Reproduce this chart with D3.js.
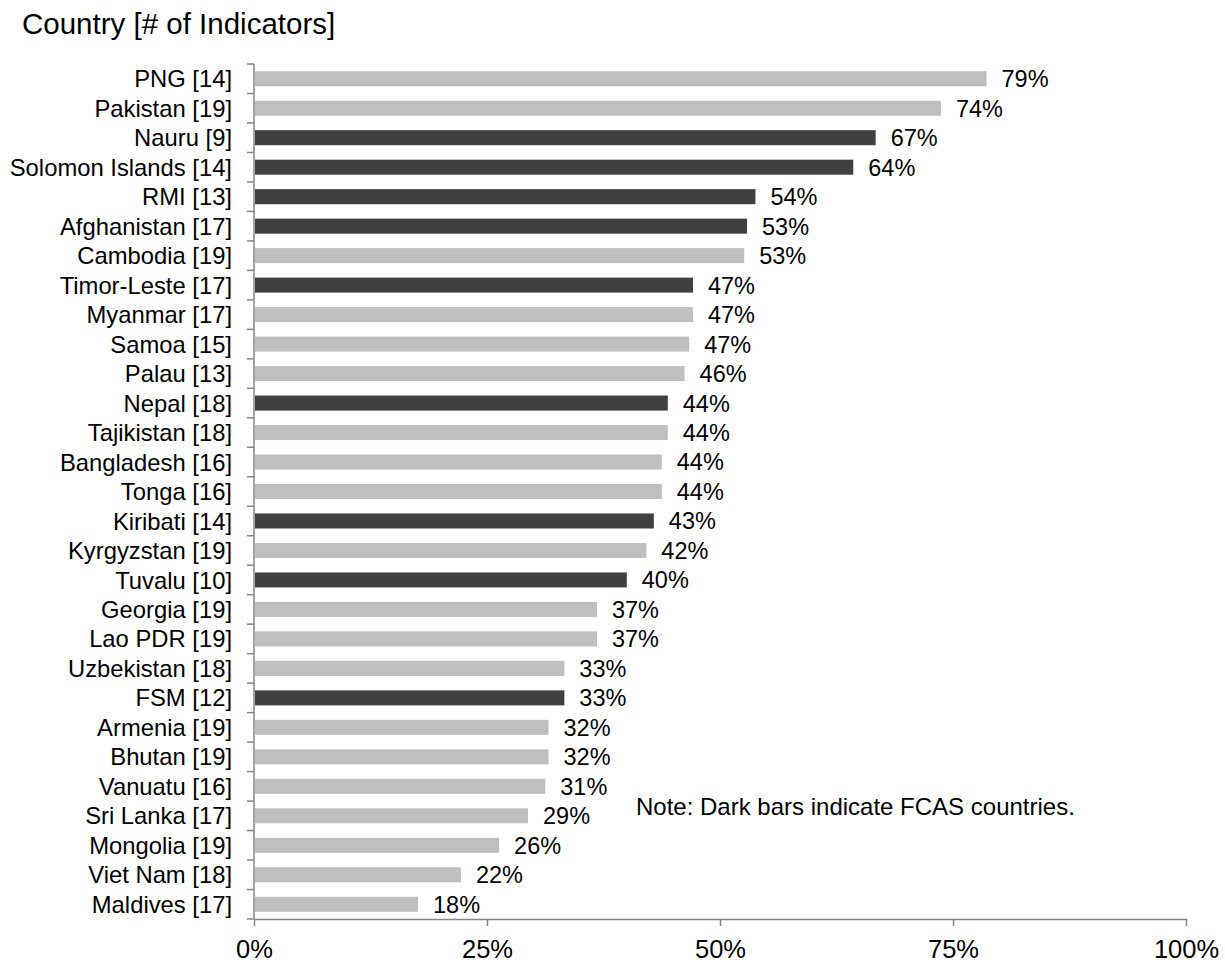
<!DOCTYPE html>
<html>
<head>
<meta charset="utf-8">
<script src="https://cdn.jsdelivr.net/npm/d3@7"></script>
<style>
  html, body { margin: 0; padding: 0; background: #fff; }
  svg { display: block; font-family: Arial, "Liberation Sans", sans-serif; }
</style>
</head>
<body>
<svg id="chart" width="1225" height="962"></svg>
<script>
// Countries with the number of indicators assessed
const countries = ["PNG", "Pakistan", "Nauru", "Solomon Islands", "RMI", "Afghanistan", "Cambodia",
  "Timor-Leste", "Myanmar", "Samoa", "Palau", "Nepal", "Tajikistan", "Bangladesh", "Tonga",
  "Kiribati", "Kyrgyzstan", "Tuvalu", "Georgia", "Lao PDR", "Uzbekistan", "FSM", "Armenia",
  "Bhutan", "Vanuatu", "Sri Lanka", "Mongolia", "Viet Nam", "Maldives"];
const indicatorCounts = [14, 19, 9, 14, 13, 17, 19, 17, 17, 15, 13, 18, 18, 16, 16, 14, 19, 10,
  19, 19, 18, 12, 19, 19, 16, 17, 19, 18, 17];
// Share of indicators (fraction)
const shares = [0.786, 0.737, 0.667, 0.643, 0.538, 0.529, 0.526, 0.471, 0.471, 0.467, 0.462,
  0.444, 0.444, 0.4375, 0.4375, 0.429, 0.421, 0.400, 0.368, 0.368, 0.333, 0.333, 0.316, 0.316,
  0.3125, 0.294, 0.263, 0.222, 0.176];
// Fragile and conflict-affected situations
const fcas = [false, false, true, true, true, true, false, true, false, false, false, true, false,
  false, false, true, false, true, false, false, false, true, false, false, false, false, false,
  false, false];
const xTicks = [0, 0.25, 0.5, 0.75, 1];

(function () {
  const labels = countries.map((c, i) => `${c} [${indicatorCounts[i]}]`);
  const data = labels.map((l, i) => ({ label: l, value: shares[i], fcas: fcas[i] }));

  const svg = d3.select("#chart");
  const mLeft = 254, mRight = 1186, mTop = 64, mBottom = 919;

  const x = d3.scaleLinear().domain([0, 1]).range([mLeft, mRight]);
  const y = d3.scaleBand().domain(labels).range([mTop, mBottom]).paddingInner(0.49).paddingOuter(0.245);

  const axisColor = "#868686";

  // Bars
  svg.append("g").selectAll("rect").data(data).join("rect")
    .attr("x", x(0) + 1)
    .attr("y", d => y(d.label))
    .attr("width", d => x(d.value) - x(0) - 1)
    .attr("height", y.bandwidth())
    .attr("fill", d => d.fcas ? "#404040" : "#BFBFBF");

  // Value labels
  const pct = d3.format(".0%");
  svg.append("g").selectAll("text").data(data).join("text")
    .attr("x", d => x(d.value) + 15)
    .attr("y", d => y(d.label) + y.bandwidth() / 2)
    .attr("dy", "0.36em")
    .attr("font-size", 23.5)
    .attr("fill", "#000")
    .text(d => pct(d.value));

  // Y axis: line with ticks between categories
  const yAxisG = svg.append("g");
  yAxisG.append("line")
    .attr("x1", mLeft).attr("x2", mLeft).attr("y1", mTop).attr("y2", mBottom)
    .attr("stroke", axisColor).attr("stroke-width", 1.5);
  const step = y.step();
  const boundaries = d3.range(labels.length + 1).map(i => mTop + i * step);
  yAxisG.selectAll("line.tick").data(boundaries).join("line")
    .attr("class", "tick")
    .attr("x1", mLeft - 7).attr("x2", mLeft)
    .attr("y1", d => d).attr("y2", d => d)
    .attr("stroke", axisColor).attr("stroke-width", 1.5);
  yAxisG.selectAll("text").data(labels).join("text")
    .attr("x", 232)
    .attr("y", d => y(d) + y.bandwidth() / 2)
    .attr("dy", "0.36em")
    .attr("text-anchor", "end")
    .attr("font-size", 23.8)
    .attr("fill", "#000")
    .text(d => d);

  // X axis
  const xAxis = d3.axisBottom(x).tickValues(xTicks).tickFormat(pct).tickSize(7).tickSizeOuter(0).tickPadding(14);
  const xg = svg.append("g").attr("transform", `translate(0,${mBottom})`).call(xAxis);
  xg.select(".domain").attr("stroke", axisColor).attr("stroke-width", 1.5);
  xg.selectAll(".tick line").attr("stroke", axisColor).attr("stroke-width", 1.5);
  xg.selectAll(".tick text").attr("font-size", 25.5).attr("fill", "#000")
    .attr("font-family", "Arial, 'Liberation Sans', sans-serif");

  // Title
  svg.append("text")
    .attr("x", 22).attr("y", 34)
    .attr("font-size", 29.5)
    .attr("fill", "#000")
    .text("Country [# of Indicators]");

  // Note
  svg.append("text")
    .attr("x", 636).attr("y", 815)
    .attr("font-size", 24)
    .attr("fill", "#000")
    .text("Note: Dark bars indicate FCAS countries.");
})();
</script>
</body>
</html>
